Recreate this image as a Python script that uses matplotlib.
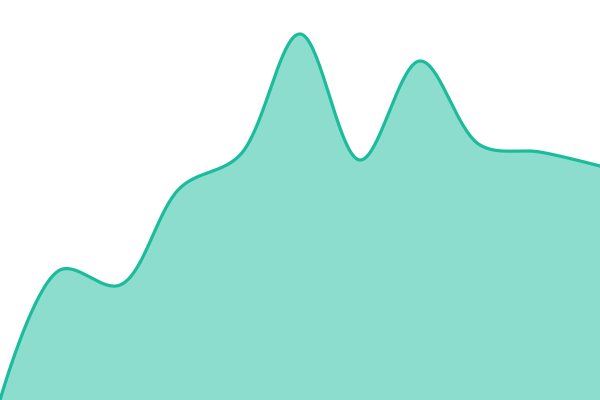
import numpy as np
import matplotlib
matplotlib.use("Agg")
import matplotlib.pyplot as plt

# data
x_vals = [0, 1, 2, 3, 4, 5, 6, 7, 8, 9, 10]
y_vals = [0, 130, 115, 212, 245, 366, 240, 339, 255, 248, 234]

ALPHA = 0.5


def catmull_rom_d3(pts, alpha=0.5, n=40):
    """Centripetal Catmull-Rom bezier path (d3.curveCatmullRom style) in display space."""
    pts = [np.asarray(p, float) for p in pts]
    N = len(pts)
    out = [pts[0][None, :]]
    eps = 1e-12
    for i in range(N - 1):
        p0 = pts[i - 1] if i > 0 else pts[i]
        p1 = pts[i]
        p2 = pts[i + 1]
        p3 = pts[i + 2] if i + 2 < N else pts[i + 1]
        l01a = np.linalg.norm(p1 - p0) ** alpha
        l12a = np.linalg.norm(p2 - p1) ** alpha
        l23a = np.linalg.norm(p3 - p2) ** alpha
        l01_2a, l12_2a, l23_2a = l01a ** 2, l12a ** 2, l23a ** 2
        c1 = p1.copy()
        if l01a > eps:
            a = 2 * l01_2a + 3 * l01a * l12a + l12_2a
            nn = 3 * l01a * (l01a + l12a)
            c1 = (p1 * a - p0 * l12_2a + p2 * l01_2a) / nn
        c2 = p2.copy()
        if l23a > eps:
            b = 2 * l23_2a + 3 * l23a * l12a + l12_2a
            m = 3 * l23a * (l23a + l12a)
            c2 = (p2 * b + p1 * l23_2a - p3 * l12_2a) / m
        t = np.linspace(0, 1, n + 1)[1:, None]
        seg = ((1 - t) ** 3) * p1 + 3 * ((1 - t) ** 2) * t * c1 \
            + 3 * (1 - t) * t ** 2 * c2 + t ** 3 * p2
        out.append(seg)
    return np.vstack(out)


fig = plt.figure(figsize=(6, 4), dpi=100)
ax = fig.add_axes([0, 0, 1, 1])
ax.set_xlim(0, 10)
ax.set_ylim(0, 400)
ax.axis("off")

disp = ax.transData.transform(np.column_stack([x_vals, y_vals]))
curve_disp = catmull_rom_d3(disp, ALPHA)
curve = ax.transData.inverted().transform(curve_disp)
sx, sy = curve[:, 0], curve[:, 1]

ax.fill_between(sx, sy, 0, color="#1abc9c", alpha=0.5, linewidth=0)
ax.plot(sx, sy, color="#1abc9c", linewidth=2.3)
fig.savefig("out.png", dpi=100)
